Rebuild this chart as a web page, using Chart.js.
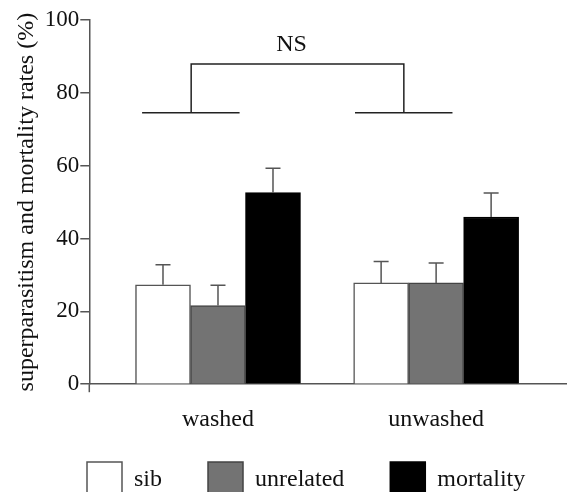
<!DOCTYPE html>
<html><head><meta charset="utf-8">
<script src="https://cdn.jsdelivr.net/npm/chart.js@4"></script>
<style>html,body{margin:0;padding:0;overflow:hidden;background:#fff;width:567px;height:492px}canvas{display:block}</style>
</head><body>
<canvas id="c" width="567" height="552"></canvas>
<script>
const categories = ['washed', 'unwashed'];
const seriesNames = ['sib', 'unrelated', 'mortality'];
const sibValues = [27.3, 27.8];
const sibErrors = [5.5, 5.9];
const unrelatedValues = [21.6, 27.8];
const unrelatedErrors = [5.6, 5.5];
const mortalityValues = [52.6, 45.9];
const mortalityErrors = [6.7, 6.6];
const yTickValues = [0, 20, 40, 60, 80, 100];
const yAxisTitle = 'superparasitism and mortality rates (%)';
const significanceLabel = 'NS';

const FONT = "'Liberation Serif', 'Times New Roman', serif";
const toPoints = vals => vals.map((v, i) => ({x: i + 1, y: v}));

const errorBarPlugin = {
  id: 'errorBars',
  afterDatasetsDraw(chart) {
    const ctx = chart.ctx, ys = chart.scales.y;
    chart.data.datasets.forEach((ds, di) => {
      const meta = chart.getDatasetMeta(di);
      meta.data.forEach((bar, i) => {
        const top = ys.getPixelForValue(ds.data[i].y + ds.errors[i]);
        ctx.save();
        ctx.strokeStyle = '#555'; ctx.lineWidth = 1.5;
        ctx.beginPath();
        ctx.moveTo(bar.x, bar.y); ctx.lineTo(bar.x, top);
        ctx.moveTo(bar.x - 7.5, top); ctx.lineTo(bar.x + 7.5, top);
        ctx.stroke(); ctx.restore();
      });
    });
  }
};

const bracketPlugin = {
  id: 'bracket',
  afterDraw(chart, args, o) {
    const ctx = chart.ctx, xs = chart.scales.x, ys = chart.scales.y;
    const X = v => xs.getPixelForValue(v), Y = v => ys.getPixelForValue(v);
    ctx.save();
    ctx.strokeStyle = '#222'; ctx.lineWidth = 1.5;
    ctx.beginPath();
    o.feet.forEach(f => { ctx.moveTo(X(f[0]), Y(o.footY)); ctx.lineTo(X(f[1]), Y(o.footY)); });
    ctx.moveTo(X(o.legs[0]), Y(o.footY)); ctx.lineTo(X(o.legs[0]), Y(o.topY));
    ctx.lineTo(X(o.legs[1]), Y(o.topY)); ctx.lineTo(X(o.legs[1]), Y(o.footY));
    ctx.stroke();
    ctx.fillStyle = '#111';
    ctx.font = '24px ' + FONT;
    ctx.textAlign = 'center'; ctx.textBaseline = 'middle';
    ctx.fillText(o.text, X(o.textX), Y(o.textY));
    // y-axis extension below the x axis
    ctx.strokeStyle = '#555';
    ctx.beginPath();
    ctx.moveTo(xs.left, ys.bottom); ctx.lineTo(xs.left, ys.bottom + 8);
    ctx.stroke();
    ctx.restore();
  }
};

const legendPlacePlugin = {
  id: 'legendPlace',
  afterLayout(chart) {
    const lg = chart.legend; if (!lg) return;
    const h = lg.height;
    lg.left = 41; lg.right = 41 + 600;
    lg.top = 416; lg.bottom = 416 + h;
  }
};

new Chart(document.getElementById('c'), {
  type: 'bar',
  data: {
    datasets: [
      {label: seriesNames[0], data: toPoints(sibValues), errors: sibErrors,
       backgroundColor: '#ffffff', borderColor: '#555', borderWidth: 1.5},
      {label: seriesNames[1], data: toPoints(unrelatedValues), errors: unrelatedErrors,
       backgroundColor: '#737373', borderColor: '#444', borderWidth: 1.5},
      {label: seriesNames[2], data: toPoints(mortalityValues), errors: mortalityErrors,
       backgroundColor: '#000000', borderColor: '#000', borderWidth: 1.5}
    ]
  },
  options: {
    responsive: false,
    animation: false,
    devicePixelRatio: 1,
    barThickness: 55,
    layout: {padding: {top: 20, right: 0, left: 0, bottom: 5}},
    plugins: {
      legend: {
        position: 'bottom', align: 'start',
        labels: {font: {family: FONT, size: 24}, color: '#111', boxWidth: 35, boxHeight: 36, padding: 46}
      },
      tooltip: {enabled: false},
      bracket: {feet: [[0.652, 1.099], [1.628, 2.075]], legs: [0.877, 1.852], footY: 74.5, topY: 87.9,
                text: significanceLabel, textX: 1.337, textY: 93.1}
    },
    scales: {
      x: {
        type: 'linear', min: 0.41, max: 2.6, offset: false,
        afterBuildTicks: s => { s.ticks = categories.map((c, i) => ({value: i + 1})); },
        ticks: {callback: (v) => categories[v - 1] || '', font: {family: FONT, size: 24}, color: '#111', padding: 21, autoSkip: false, maxRotation: 0},
        grid: {display: true, drawOnChartArea: false, drawTicks: false, color: 'rgba(0,0,0,0)'},
        border: {display: true, color: '#555', width: 1.5}
      },
      y: {
        min: 0, max: 100,
        afterBuildTicks: s => { s.ticks = yTickValues.map(v => ({value: v})); },
        ticks: {font: {family: FONT, size: 23}, color: '#111', padding: 1},
        grid: {drawOnChartArea: false, drawTicks: true, tickLength: 9, color: '#555', lineWidth: 1.5},
        border: {display: true, color: '#555', width: 1.5},
        title: {display: true, text: yAxisTitle, font: {family: FONT, size: 24}, color: '#111', padding: {top: 12, bottom: 3}}
      }
    }
  },
  plugins: [errorBarPlugin, bracketPlugin, legendPlacePlugin]
});
</script>
</body></html>
